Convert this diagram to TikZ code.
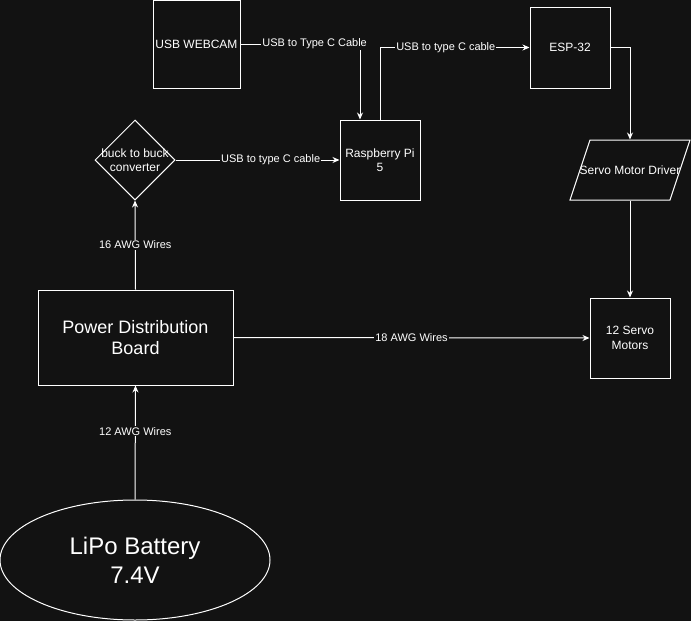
\documentclass[tikz,border=0pt]{standalone}
\usepackage{fontspec}
\setmainfont{Liberation Sans}
\usetikzlibrary{shapes.geometric,arrows.meta}
\definecolor{bg}{HTML}{121212}

\begin{document}
\begin{tikzpicture}[x=1pt,y=-1pt,
    box/.style={draw=white,line width=1pt,fill=bg,text=white,align=center,inner sep=0pt,
      font=\fontsize{12}{14.4}\selectfont},
    wire/.style={draw=white,line width=1pt,-{Stealth[length=7pt,width=6pt]}},
    lbl/.style={fill=bg,text=white,inner sep=1pt,font=\fontsize{11}{13}\selectfont}]
      % Bakgrund
      \useasboundingbox (0,0) rectangle (691,621);
      \fill[bg] (0,0) rectangle (691,621);
      % Noder
      \node[box,minimum width=87,minimum height=88] (cam) at (196.5,44) {USB WEBCAM};
      \node[box,minimum width=80,minimum height=80] (pi) at (380,160) {Raspberry Pi\\5};
      \node[box,minimum width=80,minimum height=81] (esp) at (570,47.5) {ESP-32};
      \draw[white,line width=1pt,fill=bg] (590,140) -- (690,140) -- (670,200) -- (570,200) -- cycle;
      \node[box,draw=none,fill=none,minimum width=100,minimum height=60] (drv) at (630,170) {Servo Motor Driver};
      \node[box,minimum width=80,minimum height=80] (srv) at (630,338) {12 Servo\\Motors};
      \node[box,minimum width=195,minimum height=95,font=\fontsize{18}{21.6}\selectfont] (pdb) at (135.5,337.5) {Power Distribution\\Board};
      \node[box,diamond,minimum width=80,minimum height=80,
        label={[text=white,align=center,font=\fontsize{12}{14.4}\selectfont]center:buck to buck\\converter}] (buck) at (135,160) {};
      \node[box,ellipse,minimum width=270,minimum height=120,font=\fontsize{24}{29}\selectfont] (bat) at (135,560) {LiPo Battery\\7.4V};
      % Kablar
      \draw[wire] (cam.east) -| ([xshift=-20pt]pi.north) node[lbl,pos=0.31] {USB to Type C Cable};
      \draw[wire] (pi.north) |- (esp.west) node[lbl,pos=0.72] {USB to type C cable};
      \draw[wire] (esp.east) -| (drv.north);
      \draw[wire] (drv.south) -- (srv.north);
      \draw[wire] (buck.east) -- (pi.west) node[lbl,pos=0.58] {USB to type C cable};
      \draw[wire] (pdb.east) -- (srv.west) node[lbl,midway] {18 AWG Wires};
      \draw[wire] (pdb.north) -- (buck.south) node[lbl,midway] {16 AWG Wires};
      \draw[wire] (bat.north) -- (pdb.south) node[lbl,pos=0.6] {12 AWG Wires};
\end{tikzpicture}
\end{document}
